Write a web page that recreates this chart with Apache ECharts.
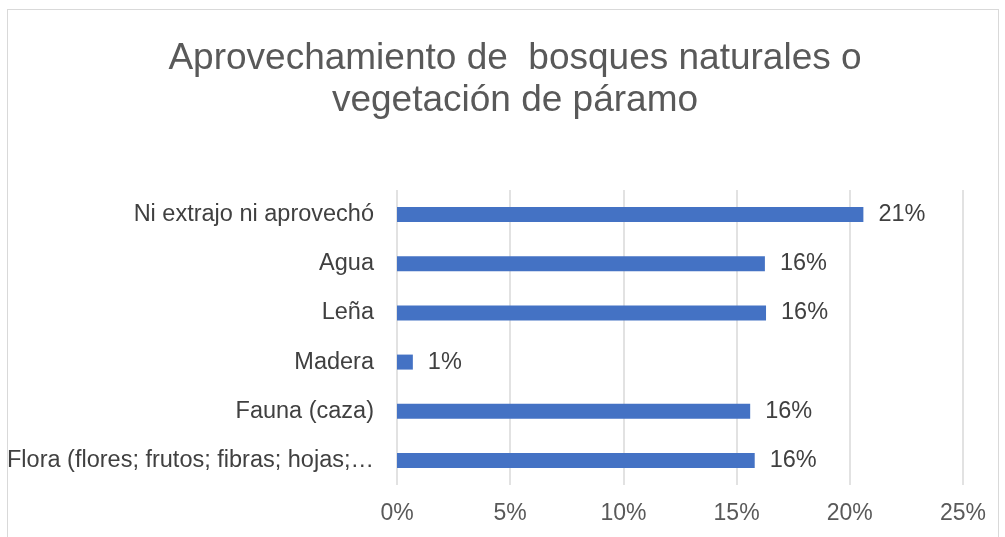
<!DOCTYPE html>
<html>
<head>
<meta charset="utf-8">
<script src="https://cdn.jsdelivr.net/npm/echarts@6/dist/echarts.min.js"></script>
<style>
  html, body { margin: 0; padding: 0; background: #fff; }
  #frame { position: absolute; left: 7px; top: 9px; width: 992px; height: 540px; border: 1px solid #d9d9d9; box-sizing: border-box; }
  #chart { position: absolute; left: 0; top: 0; width: 1005px; height: 537px; }
</style>
</head>
<body>
<div id="frame"></div>
<div id="chart"></div>
<script>
// categorías de arriba hacia abajo
const categories = [
  "Ni extrajo ni aprovechó",
  "Agua",
  "Leña",
  "Madera",
  "Fauna (caza)",
  "Flora (flores; frutos; fibras; hojas;…"
];
// porcentajes
const values = [20.6, 16.25, 16.3, 0.7, 15.6, 15.8];
const xTicks = [0, 5, 10, 15, 20, 25];

const fontFamily = "Liberation Sans, Arial, sans-serif";
const myChart = echarts.init(document.getElementById("chart"));
myChart.setOption({
  animation: false,
  title: {
    text: "Aprovechamiento de  bosques naturales o\nvegetación de páramo",
    left: 510,
    textAlign: "center",
    top: 33,
    textStyle: {
      color: "#595959",
      fontSize: 37,
      fontWeight: "normal",
      fontFamily: fontFamily,
      lineHeight: 42
    }
  },
  grid: {
    left: 397,
    right: 42,
    top: 190,
    bottom: 52,
    containLabel: false
  },
  xAxis: {
    type: "value",
    min: xTicks[0],
    max: xTicks[xTicks.length - 1],
    interval: 5,
    axisLine: { show: false },
    axisTick: { show: false },
    splitLine: { lineStyle: { color: "#d9d9d9", width: 1.5 } },
    axisLabel: {
      color: "#595959",
      fontSize: 23,
      fontFamily: fontFamily,
      margin: 17,
      formatter: "{value}%"
    }
  },
  yAxis: {
    type: "category",
    inverse: true,
    data: categories,
    axisLine: { show: false },
    axisTick: { show: false },
    axisLabel: {
      color: "#404040",
      fontSize: 23.5,
      fontFamily: fontFamily,
      margin: 23
    }
  },
  series: [
    {
      type: "bar",
      data: values,
      barWidth: 15,
      itemStyle: { color: "#4472C4" },
      label: {
        show: true,
        position: "right",
        distance: 15,
        color: "#404040",
        fontSize: 23.5,
        fontFamily: fontFamily,
        formatter: function (p) {
          return Math.round(p.value) + "%";
        }
      }
    }
  ]
});
</script>
</body>
</html>
